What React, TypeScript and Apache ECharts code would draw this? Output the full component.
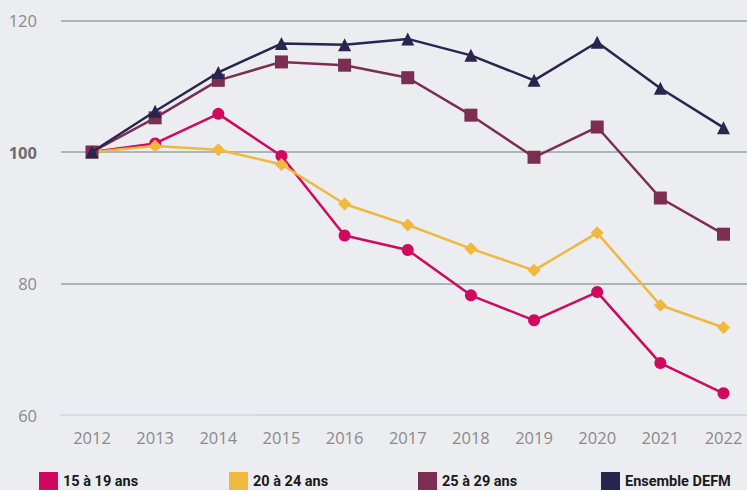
import React, { useEffect, useRef } from "react";
import * as echarts from "echarts";

const years = ["2012", "2013", "2014", "2015", "2016", "2017", "2018", "2019", "2020", "2021", "2022"];
const ans15_19 = [100, 101.3, 105.8, 99.4, 87.3, 85.1, 78.2, 74.4, 78.7, 67.9, 63.3];
const ans20_24 = [100, 100.9, 100.35, 98.1, 92.1, 88.9, 85.3, 82.0, 87.7, 76.7, 73.3];
const ans25_29 = [100, 105.2, 110.9, 113.7, 113.2, 111.3, 105.6, 99.2, 103.8, 93.0, 87.5];
const ensemble = [100, 106.2, 112.1, 116.5, 116.3, 117.2, 114.7, 110.9, 116.7, 109.7, 103.7];
const yTicks = [60, 80, 100, 120];

const names = ["15 à 19 ans", "20 à 24 ans", "25 à 29 ans", "Ensemble DEFM"];
const colors = ["#d0085f", "#f0b83c", "#7b2d52", "#28254f"];
const symbols = ["circle", "diamond", "rect", "triangle"];
const symbolSizes = [12, 13, 13, 13];
const seriesData = [ans15_19, ans20_24, ans25_29, ensemble];
const legendLefts = [39, 229, 418, 601];

export default function App() {
  const ref = useRef<HTMLDivElement>(null);
  useEffect(() => {
    if (!ref.current) return;
    const chart = echarts.init(ref.current, null, { renderer: "svg" });
    const yMin = yTicks[0];
    const yMax = yTicks[yTicks.length - 1];
    chart.setOption({
      animation: false,
      backgroundColor: "#ecedf0",
      grid: [
        { left: 61, right: 0, top: 20.5, bottom: 75, containLabel: false },
        { left: 92, right: 23.5, top: 20.5, bottom: 75, containLabel: false },
      ],
      legend: names.map((n, i) => ({
        data: [n],
        left: legendLefts[i],
        top: 472,
        padding: 0,
        icon: "rect",
        itemWidth: 19,
        itemHeight: 18,
        itemGap: 4,
        textStyle: { fontFamily: "Roboto", fontWeight: "bold", fontSize: 14.5, color: "#1a1a1a" },
      })),
      xAxis: [
        {
          gridIndex: 0,
          type: "value",
          min: 0,
          max: 1,
          show: true,
          splitLine: { show: false },
          axisLine: { show: true, lineStyle: { color: "#c9d3ea", width: 1.5 } },
          axisTick: { show: false },
          axisLabel: { show: false },
        },
        {
          gridIndex: 1,
          type: "category",
          data: years,
          boundaryGap: false,
          axisLine: { show: false },
          axisTick: { show: false },
          axisLabel: { fontFamily: "Open Sans", fontSize: 16.5, color: "#8a8a8a", margin: 14 },
        },
      ],
      yAxis: [
        {
          gridIndex: 0,
          type: "value",
          min: yMin,
          max: yMax,
          interval: 20,
          axisLine: { show: false },
          axisTick: { show: false },
          splitLine: {
            show: true,
            lineStyle: { color: ["transparent", "#93a5a2", "#93a5a2", "#93a5a2"], width: 1.5 },
          },
          axisLabel: {
            margin: 24,
            fontFamily: "Open Sans",
            fontSize: 16.5,
            color: "#8a8a8a",
            formatter: (v: number) => (v === 100 ? "{b|100}" : String(v)),
            rich: {
              b: { fontFamily: "Open Sans", fontSize: 16.5, fontWeight: "bold", color: "#6e6e6e" },
            },
          },
        },
        {
          gridIndex: 1,
          type: "value",
          min: yMin,
          max: yMax,
          interval: 20,
          show: false,
          splitLine: { show: false },
        },
      ],
      series: names.map((n, i) => ({
        name: n,
        type: "line",
        xAxisIndex: 1,
        yAxisIndex: 1,
        data: seriesData[i],
        color: colors[i],
        symbol: symbols[i],
        symbolSize: symbolSizes[i],
        showAllSymbol: true,
        lineStyle: { width: 2.5, color: colors[i] },
        itemStyle: { color: colors[i] },
        z: 2 + i,
      })),
    });
    return () => chart.dispose();
  }, []);
  return <div ref={ref} style={{ width: 747, height: 490, position: "absolute", left: 0, top: 0 }} />;
}
